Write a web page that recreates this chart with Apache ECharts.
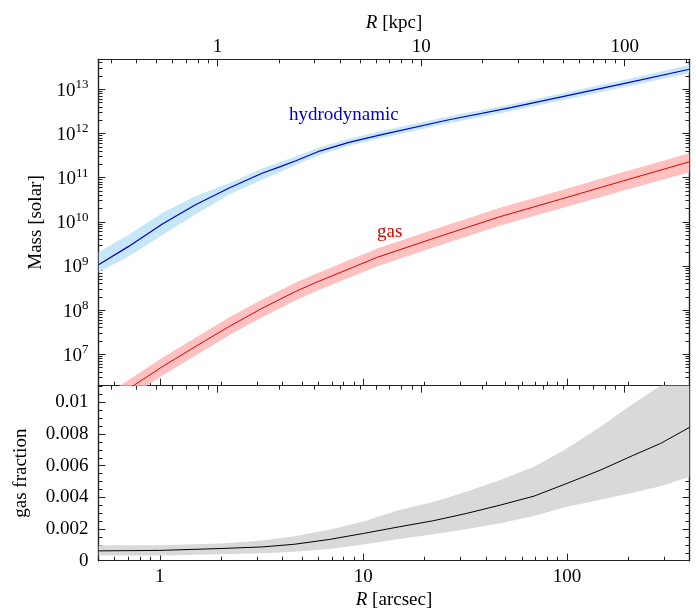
<!DOCTYPE html>
<html><head><meta charset="utf-8">
<script src="https://cdn.jsdelivr.net/npm/echarts@6/dist/echarts.min.js"></script>
<style>html,body{margin:0;padding:0;background:#fff}#c{width:696px;height:615px}</style>
</head><body><div id="c"></div>
<script>
const FONT = "'Liberation Serif','Times New Roman','DejaVu Serif',serif";

// ---- data ----
const hydroR    = [0.5, 0.7, 1.03, 1.49, 2.18, 3.18, 3.91, 4.63, 6.15, 8.5, 12, 26, 53, 190, 400];
const hydroMass = [1.07e9, 2.74e9, 8.9e9, 2.4e10, 5.75e10, 1.26e11, 1.78e11, 2.38e11, 4.05e11, 6.3e11, 9.2e11, 2.02e12, 3.84e12, 1.35e13, 2.84e13];
const hydroLow  = [7.2e8, 1.62e9, 5.0e9, 1.45e10, 4.1e10, 8.9e10, 1.35e11, 1.9e11, 3.3e11, 5.25e11, 7.7e11, 1.68e12, 3.2e12, 1.12e13, 2.3e13];
const hydroHigh = [2.04e9, 5.0e9, 1.58e10, 3.8e10, 7.4e10, 1.62e11, 2.25e11, 3.0e11, 4.95e11, 7.6e11, 1.11e12, 2.43e12, 4.6e12, 1.62e13, 3.55e13];

const gasR    = [0.5, 0.73, 1.03, 1.49, 2.18, 3.18, 4.63, 5.81, 11.7, 22.2, 47, 93, 190, 400];
const gasMass = [5.9e5, 1.86e6, 5.25e6, 1.48e7, 4.2e7, 1.1e8, 2.63e8, 4.17e8, 1.57e9, 4.24e9, 1.31e10, 3.24e10, 8.5e10, 2.29e11];
const gasLow  = [3.7e5, 1.17e6, 3.3e6, 9.3e6, 2.66e7, 6.9e7, 1.66e8, 2.63e8, 9.9e8, 2.67e9, 8.2e9, 2.0e10, 5.1e10, 1.32e11];
const gasHigh = [9.3e5, 2.95e6, 8.3e6, 2.34e7, 6.7e7, 1.74e8, 4.17e8, 6.6e8, 2.49e9, 6.7e9, 2.07e10, 5.1e10, 1.35e11, 3.55e11];

const fracR    = [0.5, 1, 2, 3.2, 4.6, 6.8, 10, 15, 22, 32, 47, 69, 100, 146, 213, 288, 400];
const fracMid  = [0.00062, 0.00065, 0.00077, 0.00087, 0.00104, 0.00134, 0.00172, 0.00214, 0.00252, 0.00298, 0.00351, 0.00408, 0.00488, 0.00572, 0.00667, 0.0074, 0.00842];
const fracLow  = [0.00033, 0.00033, 0.00041, 0.00047, 0.00056, 0.00074, 0.00102, 0.00137, 0.00167, 0.00199, 0.00237, 0.00282, 0.0034, 0.00385, 0.0043, 0.0047, 0.0053];
const fracHigh = [0.00098, 0.00098, 0.00109, 0.00128, 0.00155, 0.00195, 0.00248, 0.0032, 0.0037, 0.00435, 0.0051, 0.00593, 0.00709, 0.00846, 0.00994, 0.01105, 0.0124];

// tick labels
const arcsecTicks = [1, 10, 100];
const kpcTicks = [1, 10, 100];
const massTicks = [1e7, 1e8, 1e9, 1e10, 1e11, 1e12, 1e13];
const fracTicks = [0, 0.002, 0.004, 0.006, 0.008, 0.01];

const KPC_PER_ARCSEC = 0.52;
const rMin = 0.5, rMax = 400;
const massMin = 1.945e6, massMax = 4.78e13;
const fracMin = 0, fracMax = 0.01105;

function logMinor(min, max) {
  const out = [];
  for (let e = -3; e <= 15; e++) for (let m = 2; m <= 9; m++) {
    const v = m * Math.pow(10, e);
    if (v > min * 1.0001 && v < max * 0.9999) out.push(v);
  }
  return out;
}
function linMinor(min, max, step) {
  const out = [];
  for (let v = min; v <= max + 1e-12; v += step) out.push(+v.toFixed(6));
  return out;
}

const AX = '#222';
function baseAxis(gridIndex, position, type, min, max, ticks, len) {
  const a = {
    type, gridIndex, position, min, max,
    axisLine: {show: true, onZero: false, lineStyle: {color: AX, width: 1.2}},
    splitLine: {show: false},
    axisTick: {show: true, inside: true, length: len, customValues: ticks, lineStyle: {color: AX, width: 1}},
    axisLabel: {show: false},
    axisPointer: {show: false}
  };
  if (type === 'log') a.logBase = 10;
  return a;
}
const labelStyle = {color: '#000', fontFamily: FONT, fontSize: 19};
const nameStyle = {color: '#000', fontFamily: FONT, fontSize: 19,
  rich: {i: {fontStyle: 'italic', fontFamily: FONT, fontSize: 19, color: '#000'}}};

const kMin = rMin * KPC_PER_ARCSEC, kMax = rMax * KPC_PER_ARCSEC;
const MAJ = 7, MIN = 4;

const xAxes = [];
let a;
// grid 0
xAxes.push(baseAxis(0, 'bottom', 'log', rMin, rMax, arcsecTicks, MAJ));
xAxes.push(baseAxis(0, 'bottom', 'log', rMin, rMax, logMinor(rMin, rMax), MIN));
a = baseAxis(0, 'top', 'log', kMin, kMax, kpcTicks, MAJ);
a.axisLabel = Object.assign({show: true, margin: 3, customValues: kpcTicks, formatter: v => String(Math.round(v))}, labelStyle);
a.name = '{i|R} [kpc]'; a.nameLocation = 'middle'; a.nameGap = 26; a.nameTextStyle = nameStyle;
xAxes.push(a);
xAxes.push(baseAxis(0, 'top', 'log', kMin, kMax, logMinor(kMin, kMax), MIN));
// grid 1
a = baseAxis(1, 'bottom', 'log', rMin, rMax, arcsecTicks, MAJ);
a.axisLabel = Object.assign({show: true, margin: 7, customValues: arcsecTicks, formatter: v => String(Math.round(v))}, labelStyle);
a.name = '{i|R} [arcsec]'; a.nameLocation = 'middle'; a.nameGap = 30; a.nameTextStyle = nameStyle;
xAxes.push(a);
xAxes.push(baseAxis(1, 'bottom', 'log', rMin, rMax, logMinor(rMin, rMax), MIN));
xAxes.push(baseAxis(1, 'top', 'log', kMin, kMax, kpcTicks, MAJ));
xAxes.push(baseAxis(1, 'top', 'log', kMin, kMax, logMinor(kMin, kMax), MIN));

const yAxes = [];
a = baseAxis(0, 'left', 'log', massMin, massMax, massTicks, MAJ);
a.axisLabel = Object.assign({show: true, margin: 10, customValues: massTicks,
  formatter: v => '{b|10}{s|' + Math.round(Math.log10(v)) + '}',
  rich: {b: {fontFamily: FONT, fontSize: 19, color: '#000', lineHeight: 22, verticalAlign: 'bottom'},
         s: {fontFamily: FONT, fontSize: 13, color: '#000', lineHeight: 22, verticalAlign: 'top'}}}, labelStyle);
a.name = 'Mass [solar]'; a.nameLocation = 'middle'; a.nameGap = 52; a.nameTextStyle = nameStyle;
yAxes.push(a);
yAxes.push(baseAxis(0, 'left', 'log', massMin, massMax, logMinor(massMin, massMax), MIN));
yAxes.push(baseAxis(0, 'right', 'log', massMin, massMax, massTicks, MAJ));
yAxes.push(baseAxis(0, 'right', 'log', massMin, massMax, logMinor(massMin, massMax), MIN));
a = baseAxis(1, 'left', 'value', fracMin, fracMax, fracTicks, MAJ);
a.axisLabel = Object.assign({show: true, margin: 10, customValues: fracTicks, formatter: v => String(+v.toFixed(3))}, labelStyle);
a.name = 'gas fraction'; a.nameLocation = 'middle'; a.nameGap = 68; a.nameTextStyle = nameStyle;
yAxes.push(a);
yAxes.push(baseAxis(1, 'left', 'value', fracMin, fracMax, linMinor(0, 0.011, 0.0005), MIN));
yAxes.push(baseAxis(1, 'right', 'value', fracMin, fracMax, fracTicks, MAJ));
yAxes.push(baseAxis(1, 'right', 'value', fracMin, fracMax, linMinor(0, 0.011, 0.0005), MIN));

// band drawn as one polygon through the axes' scales (api.coord)
function bandSeries(xs, lo, hi, xi, yi, color) {
  return {
    type: 'custom', coordinateSystem: 'cartesian2d', xAxisIndex: xi, yAxisIndex: yi,
    silent: true, z: 1,
    data: xs.map((x, i) => [x, lo[i], hi[i]]),
    encode: {x: 0, y: [1, 2]},
    renderItem: function (params, api) {
      if (params.dataIndex !== 0) return null;
      const pts = [];
      for (let i = 0; i < xs.length; i++) pts.push(api.coord([xs[i], hi[i]]));
      for (let i = xs.length - 1; i >= 0; i--) pts.push(api.coord([xs[i], lo[i]]));
      const cs = params.coordSys;
      return {
        type: 'polygon',
        shape: {points: pts},
        style: {fill: color, stroke: null},
        clipPath: {type: 'rect', shape: {x: cs.x, y: cs.y, width: cs.width, height: cs.height}}
      };
    }
  };
}
function lineSeries(xs, ys, xi, yi, color, width) {
  return {type: 'line', xAxisIndex: xi, yAxisIndex: yi, symbol: 'none', silent: true, smooth: false,
    data: xs.map((x, i) => [x, ys[i]]), lineStyle: {color, width}, z: 3};
}

const series = [
  bandSeries(hydroR, hydroLow, hydroHigh, 0, 0, '#c6e7f7'),
  bandSeries(gasR, gasLow, gasHigh, 0, 0, '#ffc0c0'),
  bandSeries(fracR, fracLow, fracHigh, 4, 4, '#d9d9d9'),
  lineSeries(hydroR, hydroMass, 0, 0, '#0000cd', 1.2),
  lineSeries(gasR, gasMass, 0, 0, '#e00000', 1),
  lineSeries(fracR, fracMid, 4, 4, '#000000', 1)
];

const chart = echarts.init(document.getElementById('c'), null, {renderer: 'canvas'});
chart.setOption({
  animation: false,
  backgroundColor: '#ffffff',
  grid: [
    {left: 98.5, top: 59.3, width: 591, height: 326.4, outerBoundsMode: 'none'},
    {left: 98.5, top: 385.7, width: 591, height: 175, outerBoundsMode: 'none'}
  ],
  xAxis: xAxes,
  yAxis: yAxes,
  series,
  graphic: [
    {type: 'text', left: 289, top: 106, silent: true,
     style: {text: 'hydrodynamic', fill: '#0000cd', font: '19px ' + FONT}},
    {type: 'text', left: 377, top: 223, silent: true,
     style: {text: 'gas', fill: '#dd0000', font: '19px ' + FONT}}
  ]
});
</script></body></html>
